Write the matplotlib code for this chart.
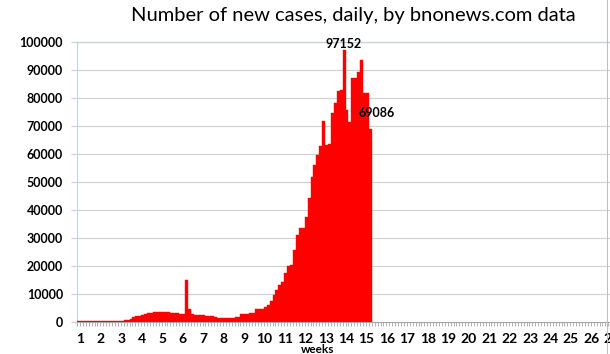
import matplotlib
matplotlib.use("Agg")
import matplotlib.pyplot as plt
import numpy as np

# daily new cases (bnonews.com), one value per day starting at week 1
new_cases = [
    300, 300, 300, 300, 300, 300, 300,
    300, 300, 350, 350, 350, 400, 400,
    400, 400, 450, 450, 1000, 1700, 2000,
    2100, 2500, 2700, 3000, 3100, 3300, 3500,
    3600, 3600, 3500, 3400, 3200, 3100, 3000,
    2800, 2700, 15100, 4500, 2600, 2500, 2500,
    2400, 2300, 2200, 2000, 2000, 1800, 1300,
    1200, 1200, 1300, 1400, 1500, 1600, 1800,
    2600, 2600, 2700, 3200, 3200, 4400, 4400,
    4500, 5400, 6000, 7500, 9500, 11300, 13000,
    14300, 17300, 19900, 20300, 25500, 31000, 33400,
    33600, 37600, 44200, 51900, 56000, 59700, 62900,
    71900, 63200, 63500, 74600, 78400, 82500, 83000,
    97152, 75800, 71600, 87100, 87300, 89500, 93600,
    82000, 82000, 69086,
]
week_labels = [str(k) for k in range(1, 28)]
n_days = 27 * 7
y_ticks = list(range(0, 100001, 10000))

W, H = 610, 354
fig = plt.figure(figsize=(W / 100, H / 100), dpi=100)
px_day = 2.919
ax = fig.add_axes([77 / W, (H - 321.7) / H, n_days * px_day / W, (321.7 - 42.3) / H])

days = np.arange(len(new_cases))
ax.bar(days, new_cases, width=1.0, color="#FF0000", edgecolor="#FF0000", linewidth=0.3, zorder=3)

ax.set_xlim(-0.5, n_days - 0.5)
ax.set_ylim(0, 100000)

# week labels every 7 days, small tick for each day
ax.set_xticks([7 * i + 0.7 for i in range(len(week_labels))])
ax.set_xticklabels(week_labels)
ax.set_xticks(np.arange(-0.5, n_days, 1), minor=True)
ax.tick_params(axis="x", which="major", length=0, pad=8)
ax.tick_params(axis="x", which="minor", length=3, width=0.6, color="#A6A6A6")

ax.set_yticks(y_ticks)
ax.set_yticklabels([str(v) for v in y_ticks])
ax.tick_params(axis="y", length=4, width=0.8, color="#D0D0D0", pad=6)

for lab in ax.get_yticklabels():
    lab.set_fontfamily("Lato")
    lab.set_fontweight("bold")
    lab.set_fontsize(9)
for lab in ax.get_xticklabels():
    lab.set_fontfamily("Lato")
    lab.set_fontweight("bold")
    lab.set_fontsize(10)

ax.grid(axis="y", color="#D0D0D0", linewidth=0.8, zorder=0)
ax.axhline(100000, color="#BDD7EE", linewidth=1.0, zorder=1, clip_on=False)
for s in ["top", "right"]:
    ax.spines[s].set_visible(False)
ax.spines["left"].set_color("#BDD7EE")
ax.spines["left"].set_linewidth(0.8)
ax.spines["bottom"].set_color("#A6A6A6")
ax.spines["bottom"].set_linewidth(0.8)

ax.annotate("97152", xy=(91, 97152), xytext=(0, 0), textcoords="offset points",
            ha="center", va="bottom", fontfamily="Lato", fontweight="bold", fontsize=9)
ax.annotate("69086", xy=(100, 69086), xytext=(4.5, 11.3), textcoords="offset points",
            ha="center", va="center", fontfamily="Lato", fontweight="bold", fontsize=9)

fig.text(353 / W, 1 - 15 / H, "Number of new cases, daily, by bnonews.com data",
         ha="center", va="center", fontfamily="Lato", fontsize=14.5)
fig.text(318 / W, 1 - 349.5 / H, "weeks", ha="center", va="center",
         fontfamily="Lato", fontweight="bold", fontsize=8.5)

# chart border on the right
fig.add_artist(plt.Line2D([607 / W, 607 / W], [0, 1], color="#BFBFBF", linewidth=0.8))

plt.savefig("out.png", dpi=100)
